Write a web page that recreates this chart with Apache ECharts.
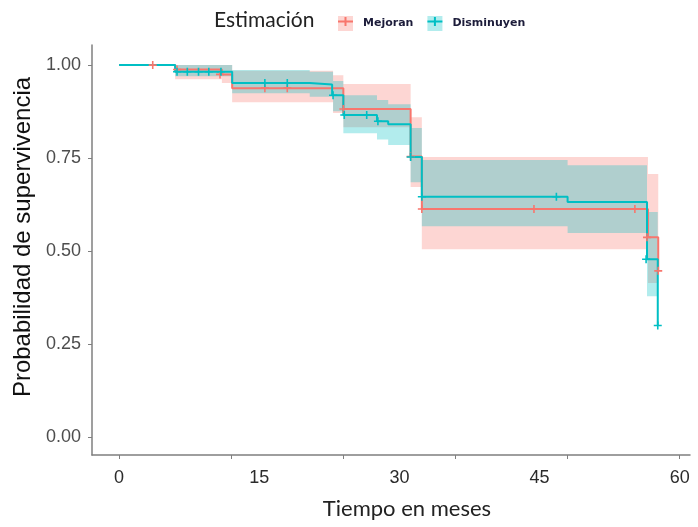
<!DOCTYPE html>
<html>
<head>
<meta charset="utf-8">
<script src="https://cdn.jsdelivr.net/npm/echarts@6/dist/echarts.min.js"></script>
<style>
  html, body { margin: 0; padding: 0; background: #fff; }
  #chart { width: 698px; height: 527px; }
</style>
</head>
<body>
<div id="chart"></div>
<script>
// curvas Kaplan-Meier (tiempo en meses, supervivencia)
const timeMejoran = [0, 6.0, 11.0, 12.1, 24.0, 31.2, 32.4, 56.6, 57.7];
const survMejoran = [1.0, 0.988, 0.975, 0.938, 0.882, 0.754, 0.613, 0.537, 0.447];
const timeDisminuyen = [0, 6.0, 12.1, 20.4, 22.8, 24.0, 27.6, 28.8, 31.2, 32.4, 48.0, 56.5, 57.65];
const survDisminuyen = [1.0, 0.982, 0.952, 0.948, 0.919, 0.866, 0.849, 0.841, 0.753, 0.646, 0.632, 0.478, 0.30];

// intervalos de confianza (tramos entre cortes)
const bandTimeMejoran = [6.0, 11.0, 12.1, 22.9, 24.0, 31.2, 32.4, 56.6, 57.7];
const bandUpperMejoran = [1.0, 1.0, 0.985, 0.973, 0.949, 0.86, 0.753, 0.707];
const bandLowerMejoran = [0.962, 0.952, 0.90, 0.871, 0.833, 0.672, 0.505, 0.414];
const bandTimeDisminuyen = [6.0, 12.1, 20.4, 22.9, 24.0, 27.6, 28.8, 31.2, 32.4, 48.0, 56.5, 57.65];
const bandUpperDisminuyen = [1.0, 0.987, 0.982, 0.957, 0.919, 0.906, 0.895, 0.831, 0.745, 0.731, 0.605];
const bandLowerDisminuyen = [0.97, 0.924, 0.915, 0.876, 0.817, 0.80, 0.785, 0.685, 0.567, 0.549, 0.379];

// censuras (+)
const censMejoranT = [3.6, 6.2, 10.8, 15.6, 18.0, 24.0, 31.2, 32.4, 44.4, 55.2, 56.5, 57.7];
const censMejoranS = [1.0, 0.988, 0.975, 0.938, 0.938, 0.882, 0.754, 0.613, 0.613, 0.613, 0.537, 0.447];
const censDisminuyenT = [6.2, 7.3, 8.5, 9.6, 10.9, 15.6, 18.0, 22.9, 24.1, 26.5, 27.7, 31.2, 32.4, 46.8, 56.4, 57.65];
const censDisminuyenS = [0.982, 0.982, 0.982, 0.982, 0.982, 0.952, 0.952, 0.919, 0.866, 0.866, 0.849, 0.753, 0.646, 0.646, 0.478, 0.30];

const xLabels = [0, 15, 30, 45, 60];
const xTicks = [0, 12, 24, 36, 48, 60];
const yTicks = [0, 0.25, 0.5, 0.75, 1];

const RED = '#F8766D';
const TEAL = '#00BFC4';
const PLUS = 'path://M4,0h2v4h4v2h-4v4h-2v-4h-4v-2h4z';
const LEG_PLUS = 'path://M0,6h15v2h-15z M6.5,2.5h2v9h-2z';

const toPairs = (xs, ys) => xs.map((x, i) => [x, ys[i]]);

// polígono escalonado de la banda
const bandSeries = (name, times, upper, lower, fill) => ({
  name: name,
  type: 'custom',
  silent: true,
  data: [[times[0], lower[0]], [times[times.length - 1], upper[0]]],
  renderItem: function (params, api) {
    if (params.dataIndex > 0) return null;
    const pts = [];
    for (let i = 0; i < upper.length; i++) {
      pts.push(api.coord([times[i], upper[i]]), api.coord([times[i + 1], upper[i]]));
    }
    for (let i = lower.length - 1; i >= 0; i--) {
      pts.push(api.coord([times[i + 1], lower[i]]), api.coord([times[i], lower[i]]));
    }
    return { type: 'polygon', shape: { points: pts }, style: { fill: fill } };
  },
  z: 1
});

const chart = echarts.init(document.getElementById('chart'));

const legendBase = {
  left: 333,
  top: 11,
  itemWidth: 15,
  itemHeight: 15,
  itemGap: 14,
  selectedMode: false,
  textStyle: { fontSize: 11, fontFamily: 'DejaVu Sans', fontWeight: 'bold', padding: [0, 0, 0, 5] }
};

const option = {
  animation: false,
  backgroundColor: '#fff',
  title: {
    text: 'Estimación',
    left: 209,
    top: 5,
    textStyle: { fontSize: 21, fontWeight: 'normal', color: '#222', fontFamily: 'Lato' }
  },
  legend: [
    Object.assign({}, legendBase, {
      data: [
        { name: 'Mejoran', icon: 'rect', itemStyle: { color: '#FDD6D3' } },
        { name: 'Disminuyen', icon: 'rect', itemStyle: { color: '#B2ECED' } }
      ],
      textStyle: Object.assign({}, legendBase.textStyle, { color: '#1c1c3a' })
    }),
    Object.assign({}, legendBase, {
      data: [
        { name: 'Mejoran', icon: LEG_PLUS, itemStyle: { color: RED } },
        { name: 'Disminuyen', icon: LEG_PLUS, itemStyle: { color: TEAL } }
      ],
      textStyle: Object.assign({}, legendBase.textStyle, { color: 'rgba(0,0,0,0)' })
    })
  ],
  grid: { left: 92, right: 8, top: 45, bottom: 72 },
  xAxis: {
    type: 'value',
    min: -2.9,
    max: 61.1,
    name: 'Tiempo en meses',
    nameLocation: 'middle',
    nameGap: 43,
    nameTextStyle: { fontSize: 22, color: '#222', fontFamily: 'Lato', padding: [0, 0, 0, 32] },
    splitLine: { show: false },
    axisLine: { onZero: false, lineStyle: { color: '#7f7f7f', width: 1.5 } },
    axisTick: { customValues: xTicks, length: 4, lineStyle: { color: '#7f7f7f' } },
    axisLabel: { customValues: xLabels, margin: 14, fontSize: 18, color: '#2b2b2b', fontFamily: 'Liberation Sans' }
  },
  yAxis: {
    type: 'value',
    min: -0.048,
    max: 1.054,
    name: 'Probabilidad de supervivencia',
    nameLocation: 'middle',
    nameGap: 57,
    nameTextStyle: { fontSize: 24, color: '#111', fontFamily: 'Liberation Sans', padding: [0, 0, 0, 26] },
    splitLine: { show: false },
    axisLine: { show: true, onZero: false, lineStyle: { color: '#7f7f7f', width: 1.5 } },
    axisTick: { customValues: yTicks, length: 4, lineStyle: { color: '#7f7f7f' } },
    axisLabel: {
      customValues: yTicks,
      margin: 11,
      fontSize: 18,
      color: '#4d4d4d',
      fontFamily: 'Liberation Sans',
      formatter: v => v.toFixed(2)
    }
  },
  series: [
    bandSeries('Mejoran', bandTimeMejoran, bandUpperMejoran, bandLowerMejoran, 'rgba(248,118,109,0.3)'),
    bandSeries('Disminuyen', bandTimeDisminuyen, bandUpperDisminuyen, bandLowerDisminuyen, 'rgba(0,191,196,0.3)'),
    {
      name: 'Mejoran',
      type: 'line',
      step: 'end',
      data: toPairs(timeMejoran, survMejoran),
      showSymbol: false,
      lineStyle: { color: RED, width: 2 },
      itemStyle: { color: RED },
      z: 3
    },
    {
      name: 'Disminuyen',
      type: 'line',
      step: 'end',
      data: toPairs(timeDisminuyen, survDisminuyen),
      showSymbol: false,
      lineStyle: { color: TEAL, width: 2 },
      itemStyle: { color: TEAL },
      z: 4
    },
    {
      name: 'Mejoran',
      type: 'scatter',
      data: toPairs(censMejoranT, censMejoranS),
      symbol: PLUS,
      symbolSize: 8,
      itemStyle: { color: RED, opacity: 1 },
      z: 5
    },
    {
      name: 'Disminuyen',
      type: 'scatter',
      data: toPairs(censDisminuyenT, censDisminuyenS),
      symbol: PLUS,
      symbolSize: 8,
      itemStyle: { color: TEAL, opacity: 1 },
      z: 6
    }
  ]
};

chart.setOption(option);
</script>
</body>
</html>
